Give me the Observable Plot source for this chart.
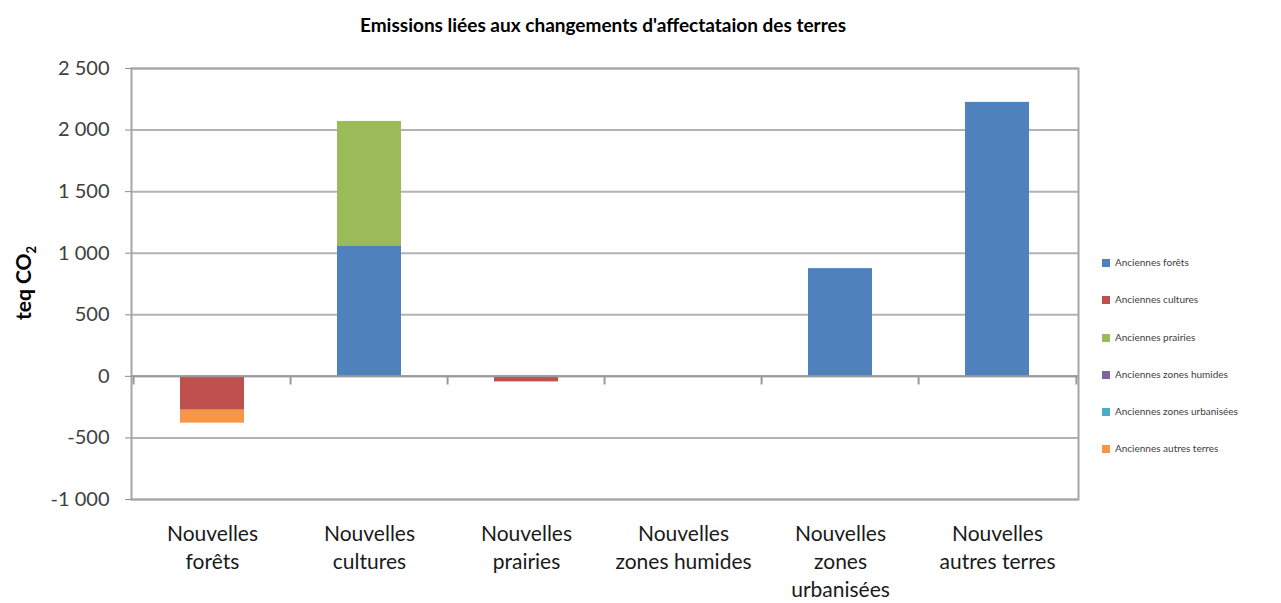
<!DOCTYPE html>
<html>
<head>
<meta charset="utf-8">
<script src="https://cdn.jsdelivr.net/npm/d3@7"></script>
<script src="https://cdn.jsdelivr.net/npm/@observablehq/plot@0.6"></script>
<style>
  html, body { margin: 0; padding: 0; background: #fff; }
  #wrap { position: relative; width: 1281px; height: 603px; font-family: Lato, "Open Sans", sans-serif; }
  #title { position: absolute; top: 13px; left: 0; width: 1206px; text-align: center; font-weight: bold; font-size: 19px; color: #000; }
  #legend { position: absolute; left: 1102px; top: 256px; font-size: 10px; color: #404040; }
  #legend .row { height: 37.3px; display: flex; align-items: flex-start; white-space: nowrap; }
  #legend .sw { width: 8px; height: 8px; margin-right: 5px; margin-top: 3px; flex: none; }
  #ylabel { position: absolute; left: 25px; top: 283px; transform: translate(-50%,-50%) rotate(-90deg); font-weight: bold; font-size: 21px; color: #000; white-space: nowrap; line-height: 1; }
</style>
</head>
<body>
<div id="wrap">
  <div id="title">Emissions liées aux changements d'affectataion des terres</div>
  <div id="ylabel">teq CO<sub style="font-size:13px">2</sub></div>
  <div id="legend"></div>
</div>
<script>
// Categories (x axis)
const categories = [
  "Nouvelles\nforêts",
  "Nouvelles\ncultures",
  "Nouvelles\nprairies",
  "Nouvelles\nzones humides",
  "Nouvelles\nzones\nurbanisées",
  "Nouvelles\nautres terres"
];
// Series (previous land use)
const series = [
  "Anciennes forêts",
  "Anciennes cultures",
  "Anciennes prairies",
  "Anciennes zones humides",
  "Anciennes zones urbanisées",
  "Anciennes autres terres"
];
const colors = ["#4F81BD", "#C0504D", "#9BBB59", "#8064A2", "#4BACC6", "#F79646"];
// Values per series, aligned with categories (teq CO2)
const ancForets       = [0, 1060, 0, 0, 875, 2225];
const ancCultures     = [-275, 0, -45, 0, 0, 0];
const ancPrairies     = [0, 1010, 0, 0, 0, 0];
const ancZonesHumides = [0, 0, 0, 0, 0, 0];
const ancZonesUrb     = [0, 0, 0, 0, 0, 0];
const ancAutresTerres = [-105, 0, 0, 0, 0, 0];
const yTicks = [-1000, -500, 0, 500, 1000, 1500, 2000, 2500];

const seriesValues = [ancForets, ancCultures, ancPrairies, ancZonesHumides, ancZonesUrb, ancAutresTerres];
const rows = [];
seriesValues.forEach((vals, si) => {
  vals.forEach((v, ci) => {
    if (v !== 0) rows.push({category: categories[ci], series: series[si], value: v});
  });
});

const fmt = d3.formatLocale({decimal: ",", thousands: " ", grouping: [3], currency: ["", ""], minus: "-"}).format(",");

const W = 1281, H = 603;
const mL = 131, mR = 203, mT = 68, mB = 104;
const halfStep = (W - mL - mR) / categories.length / 2;

const chart = Plot.plot({
  width: W,
  height: H,
  marginLeft: mL,
  marginRight: mR,
  marginTop: mT,
  marginBottom: mB,
  style: {fontFamily: "Lato, 'Open Sans', sans-serif", background: "transparent", overflow: "visible"},
  x: {domain: categories, paddingInner: 0.59, paddingOuter: 0.295, label: null},
  y: {domain: [-1000, 2500], label: null},
  color: {domain: series, range: colors},
  marks: [
    Plot.gridY(yTicks, {stroke: "#b3b3b3", strokeOpacity: 1, strokeWidth: 2}),
    Plot.barY(rows, Plot.stackY({x: "category", y: "value", fill: "series", order: series})),
    Plot.ruleY([0], {stroke: "#999", strokeWidth: 2}),
    Plot.ruleX(categories, {x: d => d, dx: -halfStep, y1: 0, y2: -70, stroke: "#999", strokeWidth: 2}),
    Plot.ruleX(categories.slice(-1), {x: d => d, dx: halfStep, y1: 0, y2: -70, stroke: "#999", strokeWidth: 2}),
    Plot.frame({stroke: "#a6a6a6", strokeWidth: 2}),
    Plot.axisY(yTicks, {tickFormat: fmt, tickSize: 6, tickPadding: 16, fontSize: 20, stroke: "#8c8c8c", fill: "#404040", label: null}),
    Plot.axisX({tickSize: 0, tickPadding: 22, fontSize: 21, lineHeight: 1.33, fill: "#1a1a1a", label: null})
  ]
});
document.getElementById("wrap").prepend(chart);
chart.style.position = "absolute";
chart.style.left = "0";
chart.style.top = "0";

const leg = document.getElementById("legend");
series.forEach((s, i) => {
  const r = document.createElement("div");
  r.className = "row";
  r.innerHTML = `<span class="sw" style="background:${colors[i]}"></span><span>${s}</span>`;
  leg.appendChild(r);
});
</script>
</body>
</html>
